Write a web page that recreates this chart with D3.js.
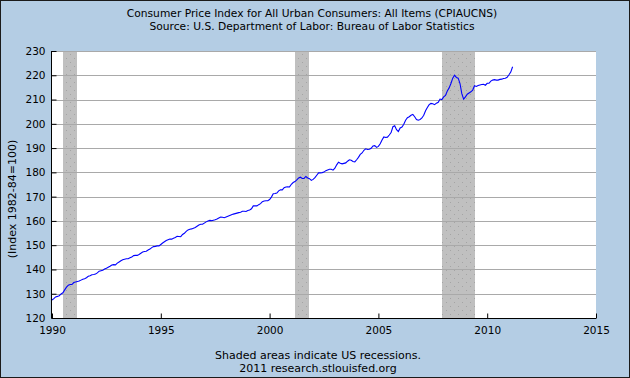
<!DOCTYPE html>
<html>
<head>
<meta charset="utf-8">
<script src="https://cdn.jsdelivr.net/npm/d3@7"></script>
<style>
  html, body { margin: 0; padding: 0; }
  body { width: 630px; height: 378px; overflow: hidden; }
  svg { display: block; font-family: "DejaVu Sans", Verdana, sans-serif; }
</style>
</head>
<body>
<svg id="chart" width="630" height="378"></svg>
<script>
// CPIAUCNS, monthly, starting Jan 1990
const startYear = 1990;
const cpiMonthly = [
  127.4, 128.0, 128.7, 128.9, 129.2, 129.9, 130.4, 131.6, 132.7, 133.5, 133.8, 133.8,
  134.6, 134.8, 135.0, 135.2, 135.6, 136.0, 136.2, 136.6, 137.2, 137.4, 137.8, 137.9,
  138.1, 138.6, 139.3, 139.5, 139.7, 140.2, 140.5, 140.9, 141.3, 141.8, 142.0, 141.9,
  142.6, 143.1, 143.6, 144.0, 144.2, 144.4, 144.4, 144.8, 145.1, 145.7, 145.8, 145.8,
  146.2, 146.7, 147.2, 147.4, 147.5, 148.0, 148.4, 149.0, 149.4, 149.5, 149.7, 149.7,
  150.3, 150.9, 151.4, 151.9, 152.2, 152.5, 152.5, 152.9, 153.2, 153.7, 153.6, 153.5,
  154.4, 154.9, 155.7, 156.3, 156.6, 156.7, 157.0, 157.3, 157.8, 158.3, 158.6, 158.6,
  159.1, 159.6, 160.0, 160.2, 160.1, 160.3, 160.5, 160.8, 161.2, 161.6, 161.5, 161.3,
  161.6, 161.9, 162.2, 162.5, 162.8, 163.0, 163.2, 163.4, 163.6, 164.0, 164.0, 163.9,
  164.3, 164.5, 165.0, 166.2, 166.2, 166.2, 166.7, 167.1, 167.9, 168.2, 168.3, 168.3,
  168.8, 169.8, 171.2, 171.3, 171.5, 172.4, 172.8, 172.8, 173.7, 174.0, 174.1, 174.0,
  175.1, 175.8, 176.2, 176.9, 177.7, 178.0, 177.5, 177.5, 178.3, 177.7, 177.4, 176.7,
  177.1, 177.8, 178.8, 179.8, 179.8, 179.9, 180.1, 180.7, 181.0, 181.3, 181.3, 180.9,
  181.7, 183.1, 184.2, 183.8, 183.5, 183.7, 183.9, 184.6, 185.2, 185.0, 184.5, 184.3,
  185.2, 186.2, 187.4, 188.0, 189.1, 189.7, 189.4, 189.5, 189.9, 190.9, 191.0, 190.3,
  190.7, 191.8, 193.3, 194.6, 194.4, 194.5, 195.4, 196.4, 198.8, 199.2, 197.6, 196.8,
  198.3, 198.7, 199.8, 201.5, 202.5, 202.9, 203.5, 203.9, 202.9, 201.8, 201.5, 201.8,
  202.4, 203.5, 205.4, 206.7, 207.9, 208.4, 208.3, 207.9, 208.5, 208.9, 210.2, 210.0,
  211.1, 211.7, 213.5, 214.8, 216.6, 218.8, 220.0, 219.1, 218.8, 216.6, 212.4, 210.2,
  211.1, 212.2, 212.7, 213.2, 213.9, 215.7, 215.4, 215.8, 216.0, 216.2, 216.3, 215.9,
  216.7, 216.7, 217.6, 218.0, 218.2, 218.0, 218.0, 218.3, 218.4, 218.7, 218.8, 219.2,
  220.2, 221.3, 223.5
];
// recession start / end (decimal years)
const recessionStart = [1990.5, 2001.167, 2007.917];
const recessionEnd = [1991.167, 2001.833, 2009.417];
const xTicks = [1990, 1995, 2000, 2005, 2010, 2015];
const yTicks = [120, 130, 140, 150, 160, 170, 180, 190, 200, 210, 220, 230];
const titleLines = [
  "Consumer Price Index for All Urban Consumers: All Items (CPIAUCNS)",
  "Source: U.S. Department of Labor: Bureau of Labor Statistics"
];
const noteLines = ["Shaded areas indicate US recessions.", "2011 research.stlouisfed.org"];

const svg = d3.select("#chart");
const W = 630, H = 378;
const plot = { left: 52, right: 596, top: 51, bottom: 318 };

svg.append("rect")
  .attr("x", 0.5).attr("y", 0.5).attr("width", W - 1).attr("height", H - 1)
  .attr("fill", "#b4cde4").attr("stroke", "#1a1a1a");

const defs = svg.append("defs");
const pat = defs.append("pattern")
  .attr("id", "dots").attr("patternUnits", "userSpaceOnUse")
  .attr("width", 8).attr("height", 8);
pat.append("rect").attr("width", 8).attr("height", 8).attr("fill", "#c0c0c0");
pat.append("rect").attr("x", 2).attr("y", 2).attr("width", 1).attr("height", 1).attr("fill", "#a4a4a4");
pat.append("rect").attr("x", 6).attr("y", 6).attr("width", 1).attr("height", 1).attr("fill", "#a4a4a4");

const x = d3.scaleLinear().domain([1990, 2015]).range([plot.left, plot.right]);
const y = d3.scaleLinear().domain([120, 230]).range([plot.bottom, plot.top]);

// plot background
svg.append("rect")
  .attr("x", plot.left).attr("y", plot.top)
  .attr("width", plot.right - plot.left).attr("height", plot.bottom - plot.top)
  .attr("fill", "#ffffff");

// recessions
svg.append("g").selectAll("rect")
  .data(recessionStart.map((s, i) => [s, recessionEnd[i]]))
  .join("rect")
  .attr("x", d => Math.round(x(d[0])))
  .attr("y", plot.top)
  .attr("width", d => Math.round(x(d[1])) - Math.round(x(d[0])))
  .attr("height", plot.bottom - plot.top)
  .attr("fill", "url(#dots)");

// gridlines
svg.append("g").selectAll("line")
  .data(yTicks.slice(1))
  .join("line")
  .attr("x1", plot.left).attr("x2", plot.right)
  .attr("y1", d => Math.round(y(d)) + 0.5).attr("y2", d => Math.round(y(d)) + 0.5)
  .attr("stroke", "#a9a9a9").attr("stroke-width", 1);

// series
const pts = cpiMonthly.map((v, i) => [startYear + i / 12, v]);
svg.append("path")
  .datum(pts)
  .attr("fill", "none")
  .attr("stroke", "#0000ff")
  .attr("stroke-width", 1.1)
  .attr("d", d3.line().x(d => x(d[0])).y(d => y(d[1])));

// axes
const xAxis = d3.axisBottom(x).tickValues(xTicks).tickFormat(d3.format("d"))
  .tickSizeInner(-5).tickSizeOuter(0).tickPadding(8);
const gx = svg.append("g").attr("transform", `translate(0,${plot.bottom + 0.5})`).call(xAxis);
const yAxis = d3.axisLeft(y).tickValues(yTicks).tickSizeInner(-5).tickSizeOuter(0).tickPadding(6);
const gy = svg.append("g").attr("transform", `translate(${plot.left - 0.5},0)`).call(yAxis);
[gx, gy].forEach(g => {
  g.select(".domain").attr("stroke", "#000");
  g.selectAll(".tick line").attr("stroke", "#000");
  g.selectAll("text").attr("fill", "#000").style("font-size", "10.5px")
    .style("font-family", "DejaVu Sans, Verdana, sans-serif");
});
gy.select(".domain").attr("d", `M0,${plot.top}V${plot.bottom}`);
gx.select(".domain").attr("d", `M${plot.left - 0.5},0H${plot.right}`);

// y title
svg.append("text")
  .attr("transform", "translate(16,199) rotate(-90)")
  .attr("text-anchor", "middle")
  .style("font-size", "11px")
  .text("(Index 1982-84=100)");

// titles
svg.append("g").selectAll("text").data(titleLines).join("text")
  .attr("x", 312).attr("y", (d, i) => 17 + i * 13)
  .attr("text-anchor", "middle").style("font-size", "10.7px")
  .text(d => d);

svg.append("g").selectAll("text").data(noteLines).join("text")
  .attr("x", 318).attr("y", (d, i) => 359 + i * 12.5)
  .attr("text-anchor", "middle").style("font-size", "11px")
  .text(d => d);
</script>
</body>
</html>
